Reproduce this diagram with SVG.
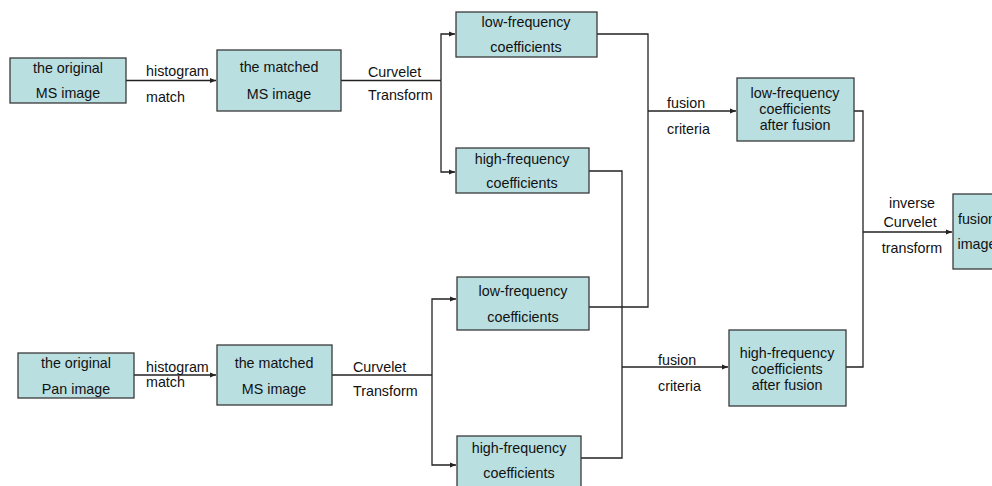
<svg xmlns="http://www.w3.org/2000/svg" width="992" height="486" viewBox="0 0 992 486">
<defs>
<marker id="ah" viewBox="0 0 10 10" refX="10" refY="5" markerWidth="6" markerHeight="6" markerUnits="userSpaceOnUse" orient="auto">
<path d="M0,1 L10,5 L0,9 z" fill="#222"/>
</marker>
<style>
.box{fill:#b9dfe1;stroke:#3a3a3a;stroke-width:1.3}
.t{font-family:"Liberation Sans",Arial,sans-serif;font-size:14.3px;fill:#111;text-anchor:middle}
.l{font-family:"Liberation Sans",Arial,sans-serif;font-size:14.3px;fill:#111}
.c{fill:none;stroke:#222;stroke-width:1.3}
.a{fill:none;stroke:#222;stroke-width:1.3;marker-end:url(#ah)}
</style>
</defs>
<rect width="992" height="486" fill="#fff"/>
<g id="connectors">
<path class="a" d="M126,80.5 H216"/>
<path class="c" d="M341,80.5 H441"/>
<path class="a" d="M441,80.5 V34 H455"/>
<path class="a" d="M441,80.5 V172 H455"/>
<path class="a" d="M134,375 H216"/>
<path class="c" d="M332,375 H432"/>
<path class="a" d="M432,375 V299 H456"/>
<path class="a" d="M432,375 V465 H456"/>
<path class="c" d="M597,34 H648 V307 H589"/>
<path class="c" d="M589,171 H622 V458 H581"/>
<path class="a" d="M648,111 H736"/>
<path class="a" d="M622,367 H728"/>
<path class="c" d="M854,111 H863 V367 H846"/>
<path class="a" d="M863,232 H952"/>
</g>
<g id="labels">
<text class="l" x="146" y="76">histogram</text>
<text class="l" x="146" y="102">match</text>
<text class="l" x="368" y="77">Curvelet</text>
<text class="l" x="368" y="100">Transform</text>
<text class="l" x="146" y="372">histogram</text>
<text class="l" x="146" y="387">match</text>
<text class="l" x="353" y="372">Curvelet</text>
<text class="l" x="353" y="396">Transform</text>
<text class="l" x="667" y="108">fusion</text>
<text class="l" x="667" y="134">criteria</text>
<text class="l" x="658" y="365">fusion</text>
<text class="l" x="658" y="391">criteria</text>
<text class="t" x="912" y="208">inverse</text>
<text class="t" x="910" y="227">Curvelet</text>
<text class="t" x="912" y="253">transform</text>
</g>
<g id="ms-original"><rect class="box" x="10" y="58" width="116" height="45"/><text class="t" x="68" y="73">the original</text><text class="t" x="68" y="98">MS image</text></g>
<g id="ms-matched"><rect class="box" x="217" y="50" width="124" height="61"/><text class="t" x="279" y="72">the matched</text><text class="t" x="279" y="99">MS image</text></g>
<g id="ms-low"><rect class="box" x="456" y="12" width="141" height="45"/><text class="t" x="526" y="27">low-frequency</text><text class="t" x="526" y="52">coefficients</text></g>
<g id="ms-high"><rect class="box" x="456" y="148" width="133" height="45"/><text class="t" x="522" y="164">high-frequency</text><text class="t" x="522" y="188">coefficients</text></g>
<g id="pan-original"><rect class="box" x="18" y="353" width="116" height="45"/><text class="t" x="76" y="368">the original</text><text class="t" x="76" y="394">Pan image</text></g>
<g id="pan-matched"><rect class="box" x="217" y="345" width="115" height="60"/><text class="t" x="274" y="368">the matched</text><text class="t" x="274" y="394">MS image</text></g>
<g id="pan-low"><rect class="box" x="457" y="277" width="132" height="53"/><text class="t" x="523" y="296">low-frequency</text><text class="t" x="523" y="322">coefficients</text></g>
<g id="pan-high"><rect class="box" x="457" y="436" width="124" height="52"/><text class="t" x="519" y="453">high-frequency</text><text class="t" x="519" y="478">coefficients</text></g>
<g id="low-fused"><rect class="box" x="737" y="78" width="117" height="63"/><text class="t" x="795" y="98">low-frequency</text><text class="t" x="795" y="114">coefficients</text><text class="t" x="795" y="129.5">after fusion</text></g>
<g id="high-fused"><rect class="box" x="729" y="330" width="117" height="76"/><text class="t" x="787" y="358">high-frequency</text><text class="t" x="787" y="374">coefficients</text><text class="t" x="787" y="390">after fusion</text></g>
<g id="fusion-image"><rect class="box" x="953" y="194" width="50" height="75"/><text class="t" x="977" y="224">fusion</text><text class="t" x="977" y="249">image</text></g>
</svg>
